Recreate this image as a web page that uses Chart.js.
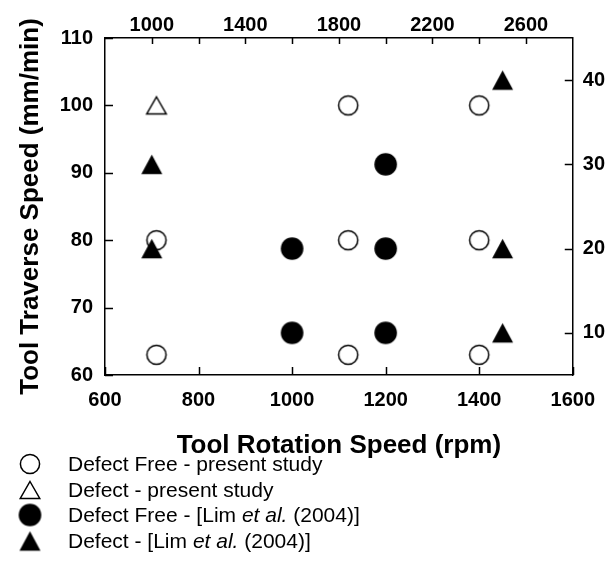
<!DOCTYPE html>
<html>
<head>
<meta charset="utf-8">
<script src="https://cdn.jsdelivr.net/npm/chart.js@4.4.0/dist/chart.umd.min.js"></script>
<style>
    html, body { margin: 0; padding: 0; background: #fff; }
    #wrap { position: relative; width: 608px; height: 587px; }
    #chart { position: absolute; left: 0; top: 0; }
    #legend {
        position: absolute; left: 0; top: 451px;
        font-family: "Liberation Sans", Arial, sans-serif;
        font-size: 21px; color: #000;
    }
    .row { display: flex; align-items: center; height: 25.7px; white-space: nowrap; }
    .row canvas { margin-left: 18px; margin-right: 26px; }
</style>
</head>
<body>
<div id="wrap">
    <canvas id="chart" width="608" height="587"></canvas>
    <div id="legend"></div>
</div>
<script>
// present study: bottom axis (rpm) / left axis (mm/min)
const presentFreeX = [710, 710, 1120, 1120, 1120, 1400, 1400, 1400];
const presentFreeY = [63, 80, 63, 80, 100, 63, 80, 100];
const presentDefectX = [710];
const presentDefectY = [100];

// Lim et al. (2004): top axis (rpm) / right axis (mm/min)
const limFreeX = [1600, 1600, 2000, 2000, 2000];
const limFreeY = [10, 20, 10, 20, 30];
const limDefectX = [1000, 1000, 2500, 2500, 2500];
const limDefectY = [20, 30, 10, 20, 40];

const bottomTicks = [600, 800, 1000, 1200, 1400, 1600];
const topTicks = [1000, 1200, 1400, 1600, 1800, 2000, 2200, 2400, 2600];
const topLabels = [1000, 1400, 1800, 2200, 2600];
const leftTicks = [60, 70, 80, 90, 100, 110];
const rightTicks = [10, 20, 30, 40];

const FONT = "'Liberation Sans', Arial, sans-serif";
const tickFont = { family: FONT, size: 20, weight: 'bold' };
const titleFont = { family: FONT, size: 26, weight: 'bold' };

function toPoints(xs, ys) {
    return xs.map((x, i) => ({ x: x, y: ys[i] }));
}

// markers centred on their bounding box
function makeMarker(shape, filled, w, h) {
    const size = Math.ceil(Math.max(w, h) + 4);
    const c = document.createElement('canvas');
    c.width = size; c.height = size;
    const g = c.getContext('2d');
    const m = size / 2;
    g.beginPath();
    if (shape === 'circle') {
        g.arc(m, m, w / 2, 0, Math.PI * 2);
    } else {
        g.moveTo(m, m - h / 2);
        g.lineTo(m + w / 2, m + h / 2);
        g.lineTo(m - w / 2, m + h / 2);
        g.closePath();
    }
    if (filled) {
        g.fillStyle = '#000';
        g.fill();
    } else {
        g.fillStyle = '#fff';
        g.fill();
        g.lineWidth = 1.5;
        g.strokeStyle = '#000';
        g.stroke();
    }
    return c;
}

const markers = [
    () => makeMarker('circle', false, 19.2, 19.2),
    () => makeMarker('triangle', false, 19.5, 17),
    () => makeMarker('circle', true, 22.6, 22.6),
    () => makeMarker('triangle', true, 21, 19.5)
];

function setTicks(list) {
    return s => { s.ticks = list.map(v => ({ value: v })); };
}

const innerTicks = {
    id: 'innerTicks',
    beforeDatasetsDraw(chart) {
        const { ctx, chartArea: a, scales } = chart;
        ctx.save();
        ctx.strokeStyle = '#000';
        ctx.lineWidth = 1.5;
        ctx.beginPath();
        scales.x.ticks.forEach(t => {
            const p = Math.round(scales.x.getPixelForValue(t.value)) + 0.5;
            ctx.moveTo(p, a.bottom); ctx.lineTo(p, a.bottom - 8);
        });
        scales.x2.ticks.forEach(t => {
            const p = Math.round(scales.x2.getPixelForValue(t.value)) + 0.5;
            ctx.moveTo(p, a.top); ctx.lineTo(p, a.top + 6);
        });
        scales.y.ticks.forEach(t => {
            const p = Math.round(scales.y.getPixelForValue(t.value)) + 0.5;
            ctx.moveTo(a.left, p); ctx.lineTo(a.left + 8, p);
        });
        scales.y2.ticks.forEach(t => {
            const p = Math.round(scales.y2.getPixelForValue(t.value)) + 0.5;
            ctx.moveTo(a.right, p); ctx.lineTo(a.right - 8, p);
        });
        ctx.stroke();
        ctx.restore();
    }
};

const datasets = [
    { label: 'Defect Free - present study', data: toPoints(presentFreeX, presentFreeY), xAxisID: 'x', yAxisID: 'y', order: 3 },
    { label: 'Defect - present study', data: toPoints(presentDefectX, presentDefectY), xAxisID: 'x', yAxisID: 'y', order: 2 },
    { label: 'Defect Free - [Lim et al. (2004)]', data: toPoints(limFreeX, limFreeY), xAxisID: 'x2', yAxisID: 'y2', order: 1 },
    { label: 'Defect - [Lim et al. (2004)]', data: toPoints(limDefectX, limDefectY), xAxisID: 'x2', yAxisID: 'y2', order: 0 }
];
datasets.forEach((ds, i) => {
    ds.pointStyle = markers[i]();
    ds.showLine = false;
});

const axisBase = {
    type: 'linear',
    grid: { display: true, drawOnChartArea: false, drawTicks: false },
    border: { display: true, color: '#000', width: 1.5 }
};
const plain = v => String(v);

new Chart(document.getElementById('chart'), {
    type: 'scatter',
    data: { datasets: datasets },
    options: {
        responsive: false,
        animation: false,
        events: [],
        devicePixelRatio: 1,
        layout: { padding: 0 },
        plugins: { legend: { display: false }, tooltip: { enabled: false } },
        scales: {
            x: {
                ...axisBase, position: 'bottom', min: 600, max: 1600,
                afterBuildTicks: setTicks(bottomTicks),
                afterFit: s => { s.height = 587 - 375; },
                ticks: { font: tickFont, color: '#000', padding: 13, autoSkip: false, maxRotation: 0, callback: plain },
                title: { display: true, text: 'Tool Rotation Speed (rpm)', font: titleFont, color: '#000', padding: { top: 0, bottom: 126 } }
            },
            x2: {
                ...axisBase, position: 'top', min: 800, max: 2800,
                afterBuildTicks: setTicks(topTicks),
                afterFit: s => { s.height = 38; },
                ticks: {
                    font: tickFont, color: '#000', padding: 1, autoSkip: false, maxRotation: 0,
                    callback: v => topLabels.includes(v) ? String(v) : ''
                }
            },
            y: {
                ...axisBase, position: 'left', min: 60, max: 110,
                afterBuildTicks: setTicks(leftTicks),
                afterFit: s => { s.width = 105; },
                ticks: { font: tickFont, color: '#000', padding: 12, autoSkip: false, callback: plain },
                title: { display: true, text: 'Tool Traverse Speed (mm/min)', font: titleFont, color: '#000', padding: { top: 15, bottom: 0 } }
            },
            y2: {
                ...axisBase, position: 'right', min: 5, max: 45,
                afterBuildTicks: setTicks(rightTicks),
                afterFit: s => { s.width = 608 - 573; },
                ticks: { font: tickFont, color: '#000', padding: 10, autoSkip: false, callback: plain }
            }
        }
    },
    plugins: [innerTicks]
});

// legend
const legend = document.getElementById('legend');
datasets.forEach((ds, i) => {
    const row = document.createElement('div');
    row.className = 'row';
    const m = markers[i]();
    const box = document.createElement('canvas');
    box.width = 24; box.height = 24;
    box.getContext('2d').drawImage(m, (24 - m.width) / 2, (24 - m.height) / 2);
    const text = document.createElement('span');
    text.innerHTML = ds.label.replace('et al.', '<i>et al.</i>');
    row.appendChild(box);
    row.appendChild(text);
    legend.appendChild(row);
});
</script>
</body>
</html>
